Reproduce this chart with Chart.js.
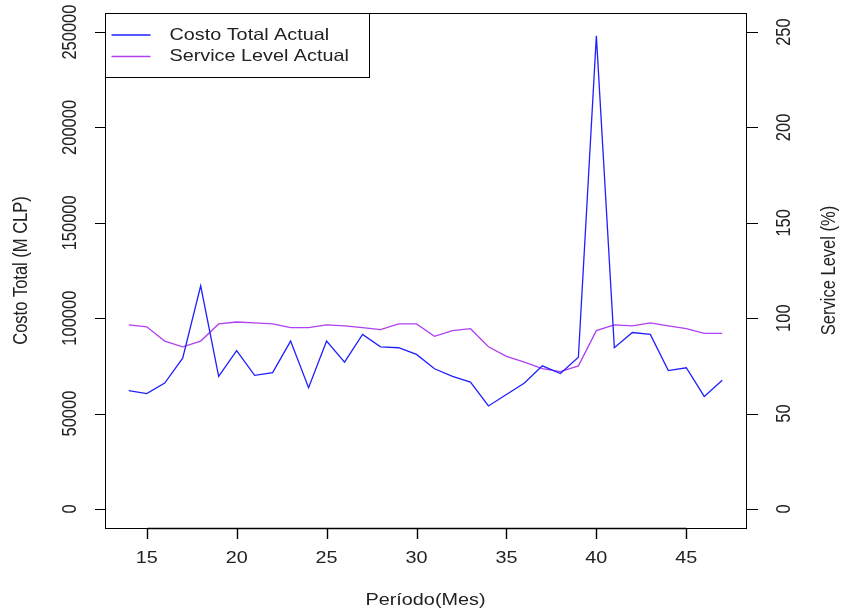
<!DOCTYPE html>
<html>
<head>
<meta charset="utf-8">
<script src="https://cdn.jsdelivr.net/npm/chart.js@4/dist/chart.umd.min.js"></script>
<style>
  body { margin: 0; background: #fff; }
  #wrap { width: 849px; height: 612px; }
</style>
</head>
<body>
<div id="wrap"><canvas id="chart" width="849" height="612"></canvas></div>
<script>
const periods = [14, 15, 16, 17, 18, 19, 20, 21, 22, 23, 24, 25, 26, 27, 28, 29, 30,
                 31, 32, 33, 34, 35, 36, 37, 38, 39, 40, 41, 42, 43, 44, 45, 46, 47];
const costoTotal = [62000, 60500, 66000, 79000, 117000, 69500, 83000, 70000, 71500, 88000,
                    63500, 88000, 77000, 91500, 85000, 84500, 81000, 73500, 69500, 66500,
                    54000, 60000, 66000, 75000, 71000, 79500, 248000, 84500, 92500, 91500,
                    72500, 74000, 59000, 67500];
const serviceLevel = [96.5, 95.5, 88, 85, 88, 97, 98, 97.5, 97, 95, 95, 96.5, 96, 95, 94,
                      97, 97, 90.5, 93.5, 94.5, 85, 80, 77, 73.5, 72, 75, 93.5, 96.5, 96,
                      97.5, 96, 94.5, 92, 92];
const xTicks = [15, 20, 25, 30, 35, 40, 45];
const leftTicks = [0, 50000, 100000, 150000, 200000, 250000];
const rightTicks = [0, 50, 100, 150, 200, 250];

const FONT = '16.5px "Liberation Sans", Arial, sans-serif';
const INK = '#222';
const STRETCH = 1.2; // the original picture is a bit wider than tall

// R-style axes, box and legend drawn over the chart area
const rAxes = {
    id: 'rAxes',
    afterDraw(chart) {
        const ctx = chart.ctx;
        const a = chart.chartArea;
        const x = chart.scales.x, y = chart.scales.y, y2 = chart.scales.y2;

        const hText = (txt, cx, cy, align) => {
            ctx.save();
            ctx.translate(cx, cy);
            ctx.scale(STRETCH, 1);
            ctx.textAlign = align || 'center';
            ctx.fillText(txt, 0, 0);
            ctx.restore();
        };
        const vText = (txt, cx, cy) => {
            ctx.save();
            ctx.translate(cx, cy);
            ctx.scale(STRETCH, 1);
            ctx.rotate(-Math.PI / 2);
            ctx.textAlign = 'center';
            ctx.fillText(txt, 0, 0);
            ctx.restore();
        };

        ctx.save();
        ctx.strokeStyle = '#000';
        ctx.lineWidth = 1;
        ctx.strokeRect(Math.round(a.left) + 0.5, Math.round(a.top) + 0.5,
                       Math.round(a.right - a.left), Math.round(a.bottom - a.top));

        ctx.fillStyle = INK;
        ctx.font = FONT;
        ctx.textBaseline = 'middle';

        // bottom axis
        const bx0 = Math.round(x.getPixelForValue(xTicks[0])) + 0.5;
        const bx1 = Math.round(x.getPixelForValue(xTicks[xTicks.length - 1])) + 0.5;
        ctx.lineWidth = 1.4;
        ctx.beginPath();
        ctx.moveTo(bx0, Math.round(a.bottom) + 0.5); ctx.lineTo(bx1, Math.round(a.bottom) + 0.5);
        xTicks.forEach(t => {
            const px = Math.round(x.getPixelForValue(t)) + 0.5;
            ctx.moveTo(px, a.bottom); ctx.lineTo(px, a.bottom + 11);
        });
        ctx.stroke();
        ctx.lineWidth = 1;
        xTicks.forEach(t => hText(String(t), x.getPixelForValue(t), a.bottom + 30));
        hText('Período(Mes)', (a.left + a.right) / 2, 600);

        // left axis
        ctx.beginPath();
        leftTicks.forEach(t => {
            const py = Math.round(y.getPixelForValue(t)) + 0.5;
            ctx.moveTo(a.left - 10, py); ctx.lineTo(a.left, py);
        });
        ctx.stroke();
        leftTicks.forEach(t => vText(String(t), 71, y.getPixelForValue(t)));
        vText('Costo Total (M CLP)', 22, (a.top + a.bottom) / 2);

        // right axis
        ctx.beginPath();
        rightTicks.forEach(t => {
            const py = Math.round(y2.getPixelForValue(t)) + 0.5;
            ctx.moveTo(a.right, py); ctx.lineTo(a.right + 12, py);
        });
        ctx.stroke();
        rightTicks.forEach(t => vText(String(t), 785, y2.getPixelForValue(t)));
        vText('Service Level (%)', 830, (a.top + a.bottom) / 2);

        // legend
        const lx = Math.round(a.left) + 0.5, ly = Math.round(a.top) + 0.5;
        ctx.fillStyle = '#fff';
        ctx.fillRect(lx, ly, 264, 64);
        ctx.strokeRect(lx, ly, 264, 64);
        chart.data.datasets.forEach((ds, i) => {
            const yy = ly + 21.5 + i * 21.5;
            ctx.strokeStyle = ds.borderColor;
            ctx.lineWidth = 1.3;
            ctx.beginPath();
            ctx.moveTo(lx + 6, yy); ctx.lineTo(lx + 45, yy);
            ctx.stroke();
            ctx.fillStyle = INK;
            hText(ds.label, lx + 64, yy, 'left');
        });
        ctx.restore();
    }
};

new Chart(document.getElementById('chart').getContext('2d'), {
    type: 'line',
    data: {
        datasets: [
            {
                label: 'Costo Total Actual',
                data: periods.map((p, i) => ({ x: p, y: costoTotal[i] })),
                borderColor: '#2020ff',
                borderWidth: 1.3,
                pointRadius: 0,
                tension: 0,
                yAxisID: 'y'
            },
            {
                label: 'Service Level Actual',
                data: periods.map((p, i) => ({ x: p, y: serviceLevel[i] })),
                borderColor: '#b040f0',
                borderWidth: 1.3,
                pointRadius: 0,
                tension: 0,
                yAxisID: 'y2'
            }
        ]
    },
    options: {
        responsive: false,
        animation: false,
        layout: { padding: { left: 105, right: 103, top: 13, bottom: 84 } },
        scales: {
            x: { type: 'linear', display: false, min: 12.68, max: 48.32 },
            y: { display: false, min: -10000, max: 260000 },
            y2: { display: false, position: 'right', min: -10, max: 260 }
        },
        plugins: {
            legend: { display: false },
            tooltip: { enabled: false }
        }
    },
    plugins: [rAxes]
});
</script>
</body>
</html>
